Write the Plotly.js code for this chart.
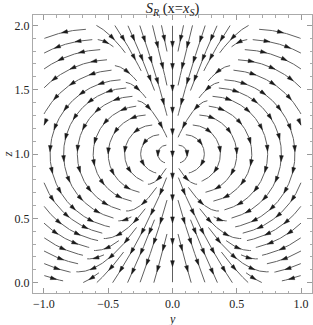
<!DOCTYPE html>
<html><head><meta charset="utf-8">
<script src="https://cdn.plot.ly/plotly-3.0.1.min.js"></script>
<style>html,body{margin:0;padding:0;background:#fff}#chart{width:313px;height:325px}</style>
</head><body><div id="chart"></div>
<script>
// ---- tick labels ----
const yTickVals = [-1.0, -0.5, 0.0, 0.5, 1.0];
const yTickText = ['\u22121.0', '\u22120.5', '0.0', '0.5', '1.0'];
const zTickVals = [0.0, 0.5, 1.0, 1.5, 2.0];
const zTickText = ['0.0', '0.5', '1.0', '1.5', '2.0'];
// ---- vector field description ----
const fieldCenter = [0.0, 1.0];        // (y, z) point the streamlines wrap around
const wedgeAngles = [34, 140];         // degrees from +z where the flow reverses
const circleShift = [0.65];            // centre offset of the circulating arcs
const axisFlow = [6.0];                // downward flow strength near the axis
const streamRegion = [-1.0, 1.0, 0.0, 2.0];

const C = fieldCenter, alpha = circleShift[0];
const p0 = wedgeAngles[0] * Math.PI / 180, p1 = wedgeAngles[1] * Math.PI / 180;
const kAxis = axisFlow[0];

function field(y, z) {
  let u = y - C[0], w = z - C[1];
  const onAxis = Math.abs(u) < 1e-12;
  let sgn = 1;
  if (u > 0) { u = -u; sgn = -1; }
  const rho = Math.hypot(u, w);
  if (rho < 1e-9) return [0, -1];
  const phi = Math.atan2(-u, w);
  const A = 1 - alpha * alpha;
  const R = (2 * alpha * u + Math.sqrt(4 * alpha * alpha * u * u + 4 * A * rho * rho)) / (2 * A);
  let tx = -w, tz = u + alpha * R;
  const tn = Math.hypot(tx, tz) || 1; tx /= tn; tz /= tn;
  const w1 = (phi - p0) * (p1 - phi) / 0.85;
  let w2 = 0;
  if (phi < p0) w2 = kAxis * Math.pow(1 - phi / p0, 2);
  else if (phi > p1) w2 = kAxis * Math.pow(1 - (Math.PI - phi) / (Math.PI - p1), 2);
  let vx = w1 * tx, vz = w1 * tz - w2;
  vx *= sgn;
  if (onAxis) vx = 0;
  return [vx, vz];
}

// ---- evenly spaced streamlines (left half, mirrored) ----
const X0 = streamRegion[0], X1 = 0, Z0 = streamRegion[2], Z1 = streamRegion[3];
const dSep = 0.085, dTest = 0.5 * dSep, h = 0.004, magMin = 0.03, minLen = 0.05;
const cs = dSep;
const nx = Math.ceil((X1 - X0) / cs) + 2, nz = Math.ceil((Z1 - Z0) / cs) + 2;
function newGrid() { return Array.from({ length: nx * nz }, () => []); }
const grid = newGrid();
function cell(x, z) { return [Math.floor((x - X0) / cs), Math.floor((z - Z0) / cs)]; }
function addPt(g, x, z, s) { const [i, j] = cell(x, z); if (i < 0 || j < 0 || i >= nx || j >= nz) return; g[j * nx + i].push([x, z, s]); }
function near(g, x, z, d, sSelf) {
  const [i, j] = cell(x, z);
  for (let dj = -1; dj <= 1; dj++) for (let di = -1; di <= 1; di++) {
    const ii = i + di, jj = j + dj; if (ii < 0 || jj < 0 || ii >= nx || jj >= nz) continue;
    for (const p of g[jj * nx + ii]) {
      if (sSelf !== undefined && Math.abs(p[2] - sSelf) < 3 * dSep) continue;
      const dx = p[0] - x, dz = p[1] - z; if (dx * dx + dz * dz < d * d) return true;
    }
  }
  return false;
}
function dir(x, z) { const v = field(x, z); const m = Math.hypot(v[0], v[1]); if (m < magMin) return null; return [v[0] / m, v[1] / m, m]; }
function trace(x, z, sign, sg) {
  const pts = []; let s = 0, prev = null;
  for (let n = 0; n < 4000; n++) {
    const d1 = dir(x, z); if (!d1) break;
    const d2 = dir(x + sign * d1[0] * h / 2, z + sign * d1[1] * h / 2); if (!d2) break;
    if (d1[0] * d2[0] + d1[1] * d2[1] < 0.7) break;
    if (prev && d2[0] * prev[0] + d2[1] * prev[1] < 0.8) break;
    const xn = x + sign * d2[0] * h, zn = z + sign * d2[1] * h;
    if (xn < X0 || xn > X1 + 1e-12 || zn < Z0 || zn > Z1) break;
    s += h;
    if (near(grid, xn, zn, dTest)) break;
    if (near(sg, xn, zn, dTest, sign * s)) break;
    x = xn; z = zn; prev = d2; pts.push([x, z]); addPt(sg, x, z, sign * s);
  }
  return pts;
}
const lines = [];
function makeLine(x, z) {
  if (x < X0 || x > X1 || z < Z0 || z > Z1) return null;
  if (!dir(x, z)) return null;
  if (near(grid, x, z, dSep * 0.95)) return null;
  const sg = newGrid(); addPt(sg, x, z, 0);
  const f = trace(x, z, 1, sg), b = trace(x, z, -1, sg);
  const pts = b.reverse().concat([[x, z]], f);
  if ((pts.length - 1) * h < minLen) return null;
  for (const p of pts) addPt(grid, p[0], p[1], 0);
  lines.push(pts);
  return pts;
}
const queue = [];
function enqueue(pts) {
  for (let k = 0; k < pts.length; k += 5) {
    const q = pts[Math.min(k + 1, pts.length - 1)], r = pts[Math.max(k - 1, 0)], p = pts[k];
    let tx = q[0] - r[0], tz = q[1] - r[1]; const m = Math.hypot(tx, tz) || 1; tx /= m; tz /= m;
    queue.push([p[0] - tz * dSep, p[1] + tx * dSep]);
    queue.push([p[0] + tz * dSep, p[1] - tx * dSep]);
  }
}
function run(x, z) { const L = makeLine(x, z); if (L) enqueue(L); while (queue.length) { const s = queue.shift(); const M = makeLine(s[0], s[1]); if (M) enqueue(M); } }
const axisLine = makeLine(0, 1.5);
if (axisLine) enqueue(axisLine);
run(-0.5, 1.0);
for (let z = Z0 + 0.02; z <= Z1; z += dSep / 2) for (let x = X0 + 0.02; x <= X1; x += dSep / 2) run(x, z);

// ---- build traces ----
const SX = 279 / 2.17, SZ = 278 / 2.16;
const lx = [], lz = [], ax = [], az = [];
const spacing = 0.17;
function addArrow(px, pz, dx, dz) {
  const m = Math.hypot(dx * SX, dz * SZ); const ux = dx * SX / m, uz = dz * SZ / m;
  const L = 6, W = 1.9;
  const tipx = px + ux * L / 2 / SX, tipz = pz + uz * L / 2 / SZ;
  const bx = px - ux * L / 2 / SX, bz = pz - uz * L / 2 / SZ;
  ax.push(tipx, bx - uz * W / SX, bx + uz * W / SX, tipx, null);
  az.push(tipz, bz + ux * W / SZ, bz - ux * W / SZ, tipz, null);
}
function emit(pts, mirror) {
  const f = mirror ? -1 : 1;
  for (const p of pts) { lx.push(f * p[0]); lz.push(p[1]); }
  lx.push(null); lz.push(null);
  const total = (pts.length - 1) * h;
  const n = Math.max(1, Math.floor(total / spacing));
  const off = (total - (n - 1) * spacing) / 2;
  for (let k = 0; k < n; k++) {
    const s = off + k * spacing; const i = Math.min(pts.length - 2, Math.max(0, Math.round(s / h)));
    const a = pts[i], b = pts[i + 1];
    addArrow(f * a[0], a[1], f * (b[0] - a[0]), b[1] - a[1]);
  }
}
lines.forEach((pts, idx) => { emit(pts, false); if (idx !== 0) emit(pts, true); });

const traces = [
  { type: 'scatter', mode: 'lines', x: lx, y: lz, line: { color: '#606060', width: 1 }, hoverinfo: 'skip', connectgaps: false },
  { type: 'scatter', mode: 'lines', x: ax, y: az, fill: 'toself', fillcolor: '#1a1a1a', line: { color: '#1a1a1a', width: 0.5 }, hoverinfo: 'skip' }
];
const fontF = 'Liberation Serif, Times New Roman, serif';
const axisCommon = {
  ticks: 'inside', ticklen: 5, tickwidth: 1, tickcolor: '#999', showline: true, linecolor: '#aaa', linewidth: 1,
  mirror: 'allticks', showgrid: false, zeroline: false, tickmode: 'array',
  tickfont: { family: fontF, size: 12, color: '#222' },
  minor: { tickmode: 'linear', tick0: 0, dtick: 0.1, ticks: 'inside', ticklen: 2.5, tickcolor: '#aaa', showgrid: false }
};
const layout = {
  width: 313, height: 325, margin: { l: 33, r: 1, t: 15, b: 32 },
  paper_bgcolor: '#fff', plot_bgcolor: '#fff', showlegend: false,
  title: { text: '<i>S</i><sub><i>R</i></sub> (x=<i>x</i><sub><i>S</i></sub>)', font: { family: fontF, size: 14.5, color: '#222' }, x: 0.5, xref: 'paper', y: 0.975, yref: 'container', yanchor: 'middle' },
  xaxis: Object.assign({}, axisCommon, { range: [-1.085, 1.085], tickvals: yTickVals, ticktext: yTickText }),
  yaxis: Object.assign({}, axisCommon, { range: [-0.08, 2.08], tickvals: zTickVals, ticktext: zTickText,
    title: { text: '<i>z</i>', font: { family: fontF, size: 13, color: '#222' }, standoff: 2 } }),
  annotations: [
    { text: '<i>y</i>', xref: 'paper', yref: 'paper', x: 0.5, y: 0, yanchor: 'top', yshift: -16.5, showarrow: false,
      font: { family: fontF, size: 12, color: '#222' } }
  ]
};
Plotly.newPlot('chart', traces, layout, { staticPlot: true, displayModeBar: false });
</script></body></html>
